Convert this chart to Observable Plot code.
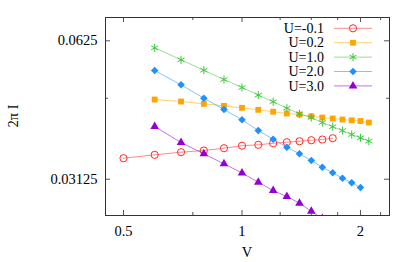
<!DOCTYPE html>
<html><head><meta charset="utf-8">
<script src="https://cdn.jsdelivr.net/npm/d3@7"></script>
<script src="https://cdn.jsdelivr.net/npm/@observablehq/plot@0.6"></script>
<style>body{margin:0;background:#fff}</style>
</head><body><div id="chart"></div>
<script>
const seriesNames = ["U=-0.1", "U=0.2", "U=1.0", "U=2.0", "U=3.0"];
const colors = ["#ff2a2a", "#ffa500", "#3cc83c", "#1e90ff", "#9400d3"];
const symbols = ["circle", "square", "asterisk", "diamond2", "triangle"];

const vRed = [0.5, 0.6, 0.7, 0.8, 0.9, 1.0, 1.1, 1.2, 1.3, 1.4, 1.5, 1.6, 1.7];
const iRed = [0.03472, 0.03531, 0.03578, 0.03608, 0.03650, 0.03696, 0.03713, 0.03742, 0.03761, 0.03780, 0.03799, 0.03812, 0.03837];

const vOrange = [0.6, 0.7, 0.8, 0.9, 1.0, 1.1, 1.2, 1.3, 1.4, 1.5, 1.6, 1.7, 1.8, 1.9, 2.0, 2.1];
const iOrange = [0.04658, 0.04612, 0.04559, 0.04513, 0.04468, 0.04424, 0.04382, 0.04343, 0.04321, 0.04284, 0.04256, 0.04235, 0.04214, 0.04197, 0.04183, 0.04151];

const vGreen = [0.6, 0.7, 0.8, 0.9, 1.0, 1.1, 1.2, 1.3, 1.4, 1.5, 1.6, 1.7, 1.8, 1.9, 2.0, 2.1];
const iGreen = [0.06035, 0.05683, 0.05394, 0.05149, 0.04947, 0.04764, 0.04607, 0.04459, 0.04336, 0.04256, 0.04151, 0.04065, 0.03988, 0.03909, 0.03845, 0.03780];

const vBlue = [0.6, 0.7, 0.8, 0.9, 1.0, 1.1, 1.2, 1.3, 1.4, 1.5, 1.6, 1.7, 1.8, 1.9, 2.0];
const iBlue = [0.05386, 0.05014, 0.04689, 0.04430, 0.04210, 0.03988, 0.03818, 0.03668, 0.03549, 0.03432, 0.03319, 0.03227, 0.03141, 0.03069, 0.02998];

const vPurple = [0.6, 0.7, 0.8, 0.9, 1.0, 1.1, 1.2, 1.3, 1.4, 1.5, 1.6];
const iPurple = [0.04069, 0.03756, 0.03549, 0.03376, 0.03224, 0.03078, 0.02953, 0.02866, 0.02771, 0.02662, 0.02567];

const xTickLabels = [0.5, 1, 2];
const xMinorTicks = [0.75, 1.25, 1.5, 1.75, 2.25];
const yTickLabels = [0.03125, 0.0625];
const yMinorTicks = [0.046875];

const allV = [vRed, vOrange, vGreen, vBlue, vPurple];
const allI = [iRed, iOrange, iGreen, iBlue, iPurple];
const series = seriesNames.map((name, k) => allV[k].map((v, j) => ({name, V: v, I: allI[k][j]})));

const W = 415, H = 262;
const mL = 105, mT = 17, mR = 26, mB = 47;
const pw = W - mL - mR, ph = H - mT - mB;
const font = "'Liberation Serif', 'DejaVu Serif', serif";
const radius = s => s === "square" ? 3.3 : s === "asterisk" ? 3.8 : s === "circle" ? 3.6 : s === "diamond2" ? 3.4 : 3.2;
const isFilled = s => s !== "circle" && s !== "asterisk";

const marks = [];
series.forEach((data, k) => {
  const s = symbols[k];
  marks.push(Plot.line(data, {x: "V", y: "I", stroke: colors[k], strokeOpacity: 0.55, strokeWidth: 1, clip: true}));
  marks.push(Plot.dot(data, {
    x: "V", y: "I", symbol: () => s, r: radius(s),
    fill: isFilled(s) ? colors[k] : "none",
    stroke: isFilled(s) ? "none" : colors[k], strokeWidth: 1, clip: true
  }));
});

marks.push(
  Plot.ruleX(xTickLabels, {x: d => d, insetTop: ph - 5, stroke: "#555"}),
  Plot.ruleX(xTickLabels, {x: d => d, insetBottom: ph - 5, stroke: "#555"}),
  Plot.ruleX(xMinorTicks, {x: d => d, insetTop: ph - 3, stroke: "#555"}),
  Plot.ruleX(xMinorTicks, {x: d => d, insetBottom: ph - 3, stroke: "#555"}),
  Plot.ruleY(yTickLabels, {y: d => d, insetRight: pw - 5, stroke: "#555"}),
  Plot.ruleY(yTickLabels, {y: d => d, insetLeft: pw - 5, stroke: "#555"}),
  Plot.ruleY(yMinorTicks, {y: d => d, insetRight: pw - 3, stroke: "#555"}),
  Plot.ruleY(yMinorTicks, {y: d => d, insetLeft: pw - 3, stroke: "#555"}),
  Plot.axisX(xTickLabels, {tickSize: 0, tickPadding: 10, tickFormat: d => String(d), label: null}),
  Plot.axisY(yTickLabels, {tickSize: 0, tickPadding: 8, tickFormat: d => String(d), label: null}),
  Plot.frame({stroke: "#333", strokeWidth: 1})
);

const chart = Plot.plot({
  width: W, height: H,
  marginLeft: mL, marginTop: mT, marginRight: mR, marginBottom: mB,
  x: {type: "log", domain: [0.45, 2.37], label: null},
  y: {type: "log", domain: [0.02606, 0.07024], label: null},
  style: {fontFamily: font, fontSize: "14.5px", color: "#000", background: "#fff"},
  marks
});

const svg = d3.select(chart);
svg.append("text").attr("x", mL + pw / 2).attr("y", 257).attr("text-anchor", "middle")
  .attr("font-family", font).attr("font-size", "14.5px").attr("fill", "#000").text("V");
svg.append("text").attr("transform", `translate(18,${mT + ph / 2}) rotate(-90)`).attr("text-anchor", "middle")
  .attr("font-family", font).attr("font-size", "14.5px").attr("fill", "#000").text("2π I");

const symMap = {circle: d3.symbolCircle, square: d3.symbolSquare, asterisk: d3.symbolAsterisk, diamond2: d3.symbolDiamond2, triangle: d3.symbolTriangle};
const lg = svg.append("g");
seriesNames.forEach((name, k) => {
  const s = symbols[k];
  const y = 28.3 + k * 14.4;
  lg.append("text").attr("x", 324).attr("y", y).attr("dy", "0.34em").attr("text-anchor", "end")
    .attr("font-family", font).attr("font-size", "14px").attr("fill", "#000").text(name);
  lg.append("line").attr("x1", 334).attr("x2", 372).attr("y1", y).attr("y2", y)
    .attr("stroke", colors[k]).attr("stroke-opacity", 0.55);
  const r = radius(s);
  lg.append("path").attr("transform", `translate(353,${y})`)
    .attr("d", d3.symbol(symMap[s], Math.PI * r * r)())
    .attr("fill", isFilled(s) ? colors[k] : "none").attr("stroke", isFilled(s) ? "none" : colors[k]);
});

document.getElementById("chart").appendChild(chart);
</script>
</body></html>
